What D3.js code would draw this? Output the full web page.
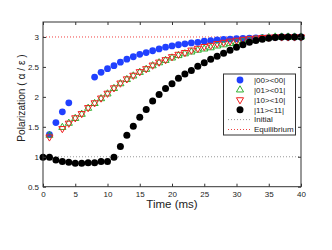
<!DOCTYPE html>
<meta charset="utf-8">
<head>
<script src="https://cdnjs.cloudflare.com/ajax/libs/d3/7.8.5/d3.min.js"></script>
<style>
body { margin:0; background:#fff; }
text { font-family: "Liberation Sans", Arial, sans-serif; fill:#222; }
</style>
</head>
<body>
<div id="chart"></div>
<script>

// time in ms, one value per series per step (null = no point)
var times = d3.range(0, 41);
var xTicks = [0, 5, 10, 15, 20, 25, 30, 35, 40];
var yTicks = [0.5, 1, 1.5, 2, 2.5, 3];

var s00 = [null,1.37,1.57,1.75,1.90,null,null,null,2.33,2.41,2.47,2.52,2.58,2.63,2.67,2.71,2.74,2.77,2.80,2.83,
           2.85,2.87,2.885,2.90,2.91,2.93,2.94,2.95,2.96,2.965,2.97,2.975,2.98,2.985,2.99,2.99,2.995,3.0,3.0,3.0,3.0];
var s01 = [null,1.36,null,1.49,1.56,1.64,1.71,1.81,1.89,1.97,2.05,2.14,2.22,2.29,2.35,2.41,2.46,2.52,2.57,2.61,
           2.65,2.69,2.72,2.75,2.78,2.80,2.82,2.85,2.87,2.89,2.91,2.93,2.95,2.96,2.98,2.99,3.0,3.0,3.0,3.0,3.0];
var s10 = [null,1.33,null,1.47,1.56,1.65,1.72,1.82,1.90,1.98,2.06,2.15,2.23,2.30,2.36,2.42,2.47,2.53,2.58,2.62,
           2.67,2.71,2.74,2.78,2.81,2.84,2.86,2.89,2.91,2.93,2.945,2.96,2.97,2.98,2.99,2.995,3.0,3.0,3.0,3.0,3.0];
var s11 = [0.99,0.99,0.945,0.92,0.91,0.89,0.89,0.90,0.90,0.92,0.92,0.99,1.17,1.36,1.51,1.66,1.79,1.93,2.04,2.14,
           2.22,2.31,2.38,2.44,2.51,2.57,2.63,2.68,2.73,2.78,2.83,2.87,2.91,2.94,2.96,2.98,2.99,3.0,3.0,3.0,3.0];
var initialLevel = 1;
var equilibriumLevel = 3;

var legendLabels = ['|00><00|', '|01><01|', '|10><10|', '|11><11|', 'Initial', 'Equilibrium'];

var width = 332, height = 250;
var margin = {left:43, right:31, top:22, bottom:63.3};
var w = width - margin.left - margin.right;
var h = height - margin.top - margin.bottom;

var svg = d3.select('#chart').append('svg')
    .attr('width', width)
    .attr('height', height);

var g = svg.append('g')
    .attr('transform', 'translate(' + margin.left + ',' + margin.top + ')');

var x = d3.scaleLinear().domain([0, 40]).range([0, w]);
var y = d3.scaleLinear().domain([0.5, 3.25]).range([h, 0]);

// reference lines
g.append('line')
    .attr('x1', x(0)).attr('x2', x(40))
    .attr('y1', y(initialLevel)).attr('y2', y(initialLevel))
    .style('stroke', '#999').style('stroke-width', 1).style('stroke-dasharray', '1,2');
g.append('line')
    .attr('x1', x(0)).attr('x2', x(40))
    .attr('y1', y(equilibriumLevel)).attr('y2', y(equilibriumLevel))
    .style('stroke', '#f04040').style('stroke-width', 1).style('stroke-dasharray', '1,2');

function pts(arr) {
  return times.map(function(t, i){ return {t:t, v:arr[i]}; })
              .filter(function(d){ return d.v !== null; });
}

var blue = '#2040ff', green = '#30b030', red = '#f02020', black = '#000';

var triUp = d3.symbol().type(d3.symbolTriangle).size(22);
var triDown = d3.symbol().type(d3.symbolTriangle).size(22);

g.selectAll('.c00').data(pts(s00)).enter().append('circle')
    .attr('cx', function(d){ return x(d.t); })
    .attr('cy', function(d){ return y(d.v); })
    .attr('r', 3.4)
    .style('fill', blue);

g.selectAll('.t01').data(pts(s01)).enter().append('path')
    .attr('d', triUp)
    .attr('transform', function(d){ return 'translate(' + x(d.t) + ',' + y(d.v) + ')'; })
    .style('fill', 'none').style('stroke', green).style('stroke-width', 1);

g.selectAll('.t10').data(pts(s10)).enter().append('path')
    .attr('d', triDown)
    .attr('transform', function(d){ return 'translate(' + x(d.t) + ',' + y(d.v) + ') rotate(180)'; })
    .style('fill', 'none').style('stroke', red).style('stroke-width', 1);

g.selectAll('.c11').data(pts(s11)).enter().append('circle')
    .attr('cx', function(d){ return x(d.t); })
    .attr('cy', function(d){ return y(d.v); })
    .attr('r', 3.5)
    .style('fill', black);

// axes, ticks pointing inward
function styleAxis(sel) {
  sel.select('.domain').remove();
  sel.selectAll('.tick line').style('stroke', '#333');
  sel.selectAll('.tick text').style('font-size', '8px').style('fill', '#222')
     .style('font-family', '"Liberation Sans", Arial, sans-serif');
}

g.append('g').attr('transform', 'translate(0,' + h + ')')
    .call(d3.axisBottom(x).tickValues(xTicks).tickSizeInner(-3).tickSizeOuter(0).tickPadding(5))
    .call(styleAxis);
g.append('g')
    .call(d3.axisTop(x).tickValues(xTicks).tickSizeInner(-3).tickSizeOuter(0).tickFormat(''))
    .call(styleAxis);
g.append('g')
    .call(d3.axisLeft(y).tickValues(yTicks).tickSizeInner(-3).tickSizeOuter(0).tickPadding(4)
          .tickFormat(function(d){ return String(d); }))
    .call(styleAxis);
g.append('g').attr('transform', 'translate(' + w + ',0)')
    .call(d3.axisRight(y).tickValues(yTicks).tickSizeInner(-3).tickSizeOuter(0).tickFormat(''))
    .call(styleAxis);

g.append('rect')
    .attr('width', w).attr('height', h)
    .style('fill', 'none').style('stroke', '#333').style('stroke-width', 1);

// axis labels
svg.append('text')
    .attr('x', margin.left + x(20)).attr('y', 208)
    .attr('text-anchor', 'middle')
    .style('font-size', '11.5px')
    .text('Time (ms)');
svg.append('text')
    .attr('transform', 'translate(24.5,98) rotate(-90)')
    .attr('text-anchor', 'middle')
    .style('font-size', '10.2px')
    .text('Polarization ( α / ε )');

// legend
var lg = svg.append('g').attr('transform', 'translate(223.5,74)');
lg.append('rect')
    .attr('width', 72).attr('height', 61)
    .style('fill', '#fff').style('stroke', '#333').style('stroke-width', 1);

var rowY = d3.scalePoint().domain(legendLabels).range([6, 55.5]);
var mx = 16.5;

lg.append('circle').attr('cx', mx).attr('cy', rowY(legendLabels[0])).attr('r', 3.4).style('fill', blue);
lg.append('path').attr('d', triUp)
    .attr('transform', 'translate(' + mx + ',' + rowY(legendLabels[1]) + ')')
    .style('fill', 'none').style('stroke', green);
lg.append('path').attr('d', triDown)
    .attr('transform', 'translate(' + mx + ',' + rowY(legendLabels[2]) + ') rotate(180)')
    .style('fill', 'none').style('stroke', red);
lg.append('circle').attr('cx', mx).attr('cy', rowY(legendLabels[3])).attr('r', 3.5).style('fill', black);
lg.append('line').attr('x1', 4.5).attr('x2', 27.5)
    .attr('y1', rowY(legendLabels[4])).attr('y2', rowY(legendLabels[4]))
    .style('stroke', '#999').style('stroke-dasharray', '1,2');
lg.append('line').attr('x1', 4.5).attr('x2', 27.5)
    .attr('y1', rowY(legendLabels[5])).attr('y2', rowY(legendLabels[5]))
    .style('stroke', '#f04040').style('stroke-dasharray', '1,2');

lg.selectAll('.lt').data(legendLabels).enter().append('text')
    .attr('x', 30.5)
    .attr('y', function(d){ return rowY(d); })
    .attr('dy', '0.35em')
    .style('font-size', '8px')
    .text(function(d){ return d; });

</script>
</body>
